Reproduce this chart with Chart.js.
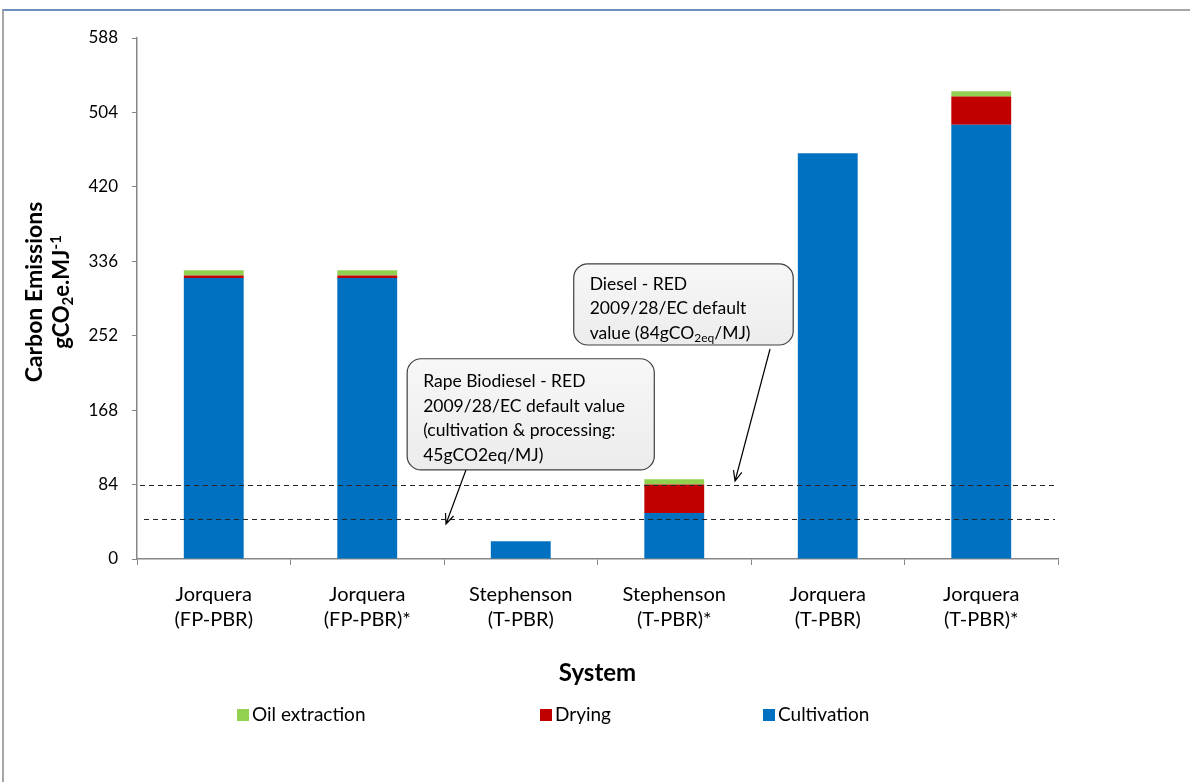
<!DOCTYPE html>
<html>
<head>
<meta charset="utf-8">
<script src="https://cdn.jsdelivr.net/npm/chart.js@4"></script>
<style>
  body { margin: 0; background: #fff; }
  #wrap { width: 1190px; height: 782px; position: relative; }
</style>
</head>
<body>
<div id="wrap"><canvas id="chart"></canvas></div>
<script>
// categorie e serie (gCO2e/MJ)
const categories = [
  ['Jorquera', '(FP-PBR)'],
  ['Jorquera', '(FP-PBR)*'],
  ['Stephenson', '(T-PBR)'],
  ['Stephenson', '(T-PBR)*'],
  ['Jorquera', '(T-PBR)'],
  ['Jorquera', '(T-PBR)*']
];
const cultivation = [317, 317, 20, 52, 458, 490];
const drying = [3, 3, 0, 32, 0, 32];
const oilExtraction = [6, 6, 0, 6, 0, 6];

const yTicks = [0, 84, 168, 252, 336, 420, 504, 588];

// valori di riferimento RED 2009/28/EC
const dieselRef = 84;
const rapeRef = 45;

const FONT = "Lato, 'Open Sans', sans-serif";

// riquadri di testo (posizioni in unita' del grafico: indice categoria, valore)
const callouts = [
  {
    box: [2.345, 333, 3.775, 241.5],
    from: [3.624, 237], to: [3.396, 88],
    lines: [
      [['Diesel - RED', 0]],
      [['2009/28/EC default', 0]],
      [['value (84gCO', 0], ['2eq', 1], ['/MJ)', 0]]
    ],
    padX: 16, padY: 20
  },
  {
    box: [1.26, 226, 2.87, 100.5],
    from: [1.643, 100.5], to: [1.513, 39.5],
    lines: [
      [['Rape Biodiesel - RED', 0]],
      [['2009/28/EC default value', 0]],
      [['(cultivation & processing:', 0]],
      [['45gCO2eq/MJ)', 0]]
    ],
    padX: 16, padY: 23
  }
];

function roundRect(ctx, x, y, w, h, r) {
  ctx.beginPath();
  ctx.moveTo(x + r, y);
  ctx.arcTo(x + w, y, x + w, y + h, r);
  ctx.arcTo(x + w, y + h, x, y + h, r);
  ctx.arcTo(x, y + h, x, y, r);
  ctx.arcTo(x, y, x + w, y, r);
  ctx.closePath();
}

const extrasPlugin = {
  id: 'extras',
  beforeDraw(chart) {
    const ctx = chart.ctx;
    ctx.save();
    // cornice
    ctx.strokeStyle = '#a6a6a6';
    ctx.lineWidth = 2;
    ctx.beginPath();
    ctx.moveTo(3, 782);
    ctx.lineTo(3, 10);
    ctx.lineTo(1190, 10);
    ctx.stroke();
    ctx.strokeStyle = '#6f8fbf';
    ctx.beginPath();
    ctx.moveTo(3, 10);
    ctx.lineTo(1000, 10);
    ctx.stroke();
    ctx.restore();
  },
  afterDatasetsDraw(chart) {
    const ctx = chart.ctx;
    const x = chart.scales.x, y = chart.scales.y;
    const area = chart.chartArea;
    ctx.save();

    // linee tratteggiate di riferimento
    ctx.strokeStyle = '#262626';
    ctx.lineWidth = 1.2;
    ctx.setLineDash([5, 4]);
    [[dieselRef, 3], [rapeRef, 7]].forEach(([v, off]) => {
      const py = Math.round(y.getPixelForValue(v)) + 0.5;
      ctx.beginPath();
      ctx.moveTo(area.left + off, py);
      ctx.lineTo(area.right - 3, py);
      ctx.stroke();
    });
    ctx.setLineDash([]);

    // riquadri + frecce
    callouts.forEach(c => {
      const x1 = x.getPixelForValue(c.box[0]), y1 = y.getPixelForValue(c.box[1]);
      const x2 = x.getPixelForValue(c.box[2]), y2 = y.getPixelForValue(c.box[3]);
      const grad = ctx.createLinearGradient(0, y1, 0, y2);
      grad.addColorStop(0, '#f7f7f7');
      grad.addColorStop(1, '#ececec');
      roundRect(ctx, x1, y1, x2 - x1, y2 - y1, 14);
      ctx.fillStyle = grad;
      ctx.fill();
      ctx.strokeStyle = '#404040';
      ctx.lineWidth = 1.2;
      ctx.stroke();

      const fx = x.getPixelForValue(c.from[0]), fy = y.getPixelForValue(c.from[1]);
      const tx = x.getPixelForValue(c.to[0]), ty = y.getPixelForValue(c.to[1]);
      ctx.strokeStyle = '#000';
      ctx.lineWidth = 1.2;
      ctx.beginPath();
      ctx.moveTo(fx, fy);
      ctx.lineTo(tx, ty);
      const ang = Math.atan2(ty - fy, tx - fx);
      ctx.moveTo(tx - 11 * Math.cos(ang - 0.4), ty - 11 * Math.sin(ang - 0.4));
      ctx.lineTo(tx, ty);
      ctx.lineTo(tx - 11 * Math.cos(ang + 0.4), ty - 11 * Math.sin(ang + 0.4));
      ctx.stroke();

      ctx.fillStyle = '#000';
      ctx.textBaseline = 'middle';
      ctx.textAlign = 'left';
      c.lines.forEach((parts, i) => {
        let px = x1 + c.padX;
        const py = y1 + c.padY + i * 24.5;
        parts.forEach(([t, sub]) => {
          ctx.font = sub ? '12px ' + FONT : '17.5px ' + FONT;
          ctx.fillText(t, px, sub ? py + 5 : py);
          px += ctx.measureText(t).width;
        });
      });
    });
    ctx.restore();
  },
  afterDraw(chart) {
    const ctx = chart.ctx;
    const area = chart.chartArea;
    ctx.save();
    ctx.fillStyle = '#000';

    // titolo asse y (due righe, con pedice e apice)
    ctx.save();
    ctx.translate(35, 292);
    ctx.rotate(-Math.PI / 2);
    ctx.textAlign = 'center';
    ctx.textBaseline = 'middle';
    ctx.font = 'bold 23px ' + FONT;
    ctx.fillText('Carbon Emissions', 0, 0);
    const parts = [['gCO', 0], ['2', 1], ['e.MJ', 0], ['-1', -1]];
    let w = 0;
    parts.forEach(([t, s]) => {
      ctx.font = s ? 'bold 15px ' + FONT : 'bold 22px ' + FONT;
      w += ctx.measureText(t).width;
    });
    let px = -w / 2;
    ctx.textAlign = 'left';
    parts.forEach(([t, s]) => {
      ctx.font = s ? 'bold 15px ' + FONT : 'bold 22px ' + FONT;
      ctx.fillText(t, px, 27 + s * 6);
      px += ctx.measureText(t).width;
    });
    ctx.restore();

    // titolo asse x
    ctx.font = 'bold 24px ' + FONT;
    ctx.textAlign = 'center';
    ctx.textBaseline = 'middle';
    ctx.fillText('System', (area.left + area.right) / 2, 673);

    // legenda
    const legendX = [237, 540, 763];
    const order = [2, 1, 0];
    ctx.font = '19px ' + FONT;
    ctx.textAlign = 'left';
    order.forEach((di, i) => {
      const ds = chart.data.datasets[di];
      ctx.fillStyle = ds.backgroundColor;
      ctx.fillRect(legendX[i], 709, 12, 12);
      ctx.fillStyle = '#000';
      ctx.fillText(ds.label, legendX[i] + 15, 715);
    });
    ctx.restore();
  }
};

new Chart(document.getElementById('chart'), {
  type: 'bar',
  data: {
    labels: categories,
    datasets: [
      { label: 'Cultivation', data: cultivation, backgroundColor: '#0070c0' },
      { label: 'Drying', data: drying, backgroundColor: '#c00000' },
      { label: 'Oil extraction', data: oilExtraction, backgroundColor: '#92d050' }
    ]
  },
  options: {
    responsive: true,
    maintainAspectRatio: false,
    animation: false,
    datasets: { bar: { categoryPercentage: 1, barPercentage: 0.39, borderWidth: 0 } },
    layout: { padding: { left: 10, right: 132, top: 38, bottom: 0 } },
    plugins: { legend: { display: false }, tooltip: { enabled: false } },
    scales: {
      x: {
        stacked: true,
        afterFit: s => { s.height = 223; },
        border: { color: '#868686', width: 1.5 },
        grid: { drawOnChartArea: false, tickLength: 6, color: '#868686', offset: true },
        ticks: { color: '#000', padding: 17, font: { family: FONT, size: 20, lineHeight: 1.25 }, maxRotation: 0 }
      },
      y: {
        stacked: true,
        min: 0,
        max: 588,
        afterFit: s => { s.width = 127; },
        afterBuildTicks: s => { s.ticks = yTicks.map(v => ({ value: v })); },
        border: { color: '#868686', width: 1.5 },
        grid: { drawOnChartArea: false, tickLength: 5, color: '#868686' },
        ticks: { color: '#000', padding: 14, font: { family: FONT, size: 17 } }
      }
    }
  },
  plugins: [extrasPlugin]
});
</script>
</body>
</html>
